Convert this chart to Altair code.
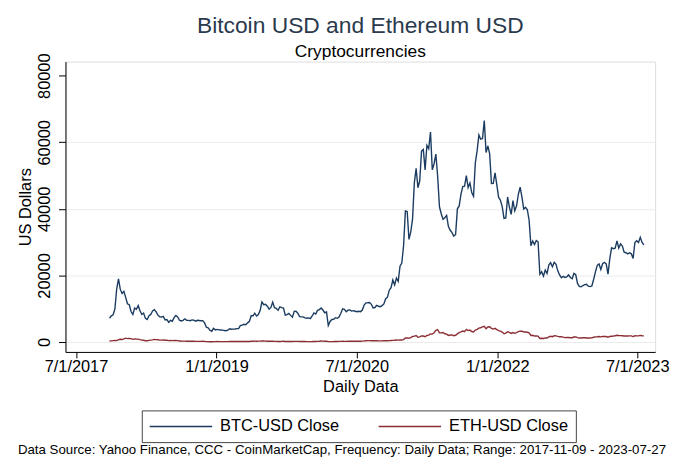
import altair as alt
import pandas as pd

# ---- weekly closes (USD) ----
year_starts = ["2017-11-09", "2018-01-04", "2019-01-03", "2020-01-02",
               "2021-01-07", "2022-01-06", "2023-01-05"]

btc_2017 = [7144, 7870, 8200, 9950, 16000, 19000, 15800, 14600]
btc_2018 = [15200, 13400, 11500, 11200,
            9170, 8270, 10200, 9830,
            10950, 9400, 8260, 8700, 7100,
            6780, 7930, 8280, 9350,
            9700, 9050, 8060, 7580, 7500,
            7690, 6630, 6730, 5900,
            6530, 6250, 7320, 7950,
            7540, 6540, 6310, 6530, 6970,
            6530, 6490, 6400, 6630,
            6580, 6280, 6530, 6470,
            6380, 6410, 5740, 4450, 4280,
            3510, 3240, 4130, 3650]
btc_2019 = [3790, 3630, 3620, 3580, 3440,
            3400, 3600, 3970, 3850,
            3880, 3920, 4030, 4030,
            4960, 5050, 5310, 5200,
            5750, 6190, 7880, 7880, 8660,
            7790, 8230, 9520, 12000,
            11230, 11350, 10760, 9880,
            10400, 11980, 10320, 10130, 9510,
            10580, 10340, 10170, 8060,
            8230, 8590, 8000, 7460, 9200,
            9230, 8640, 7630, 7560,
            7550, 7240, 7150, 7220]
btc_2020 = [6990, 7820, 8720, 8400, 9510,
            9750, 10240, 9610, 8790,
            9080, 4970, 6190, 6760,
            6810, 7300, 7120, 7500, 8660,
            9950, 9790, 9080, 9580,
            9660, 9280, 9410, 9250,
            9090, 9250, 9130, 9600, 11110,
            11750, 11780, 11860, 11330,
            10240, 10360, 11000, 10750,
            10620, 10930, 11430, 12990, 13460,
            15570, 16320, 18620, 17150,
            19210, 18250, 22800, 23740, 29000]
btc_2021 = [39370, 39190, 30830, 33110,
            37010, 47900, 52150, 46340,
            48440, 57330, 57860, 51700,
            59090, 58090, 63100, 51760, 53560,
            56470, 49710, 40630, 38530,
            36860, 37340, 38050, 34660,
            33570, 32880, 31800, 32290, 40010,
            40870, 44430, 46720, 46810,
            49970, 46400, 47780, 44890, 43790,
            53800, 57400, 62210, 60930,
            61130, 66500, 56940, 58920,
            56500, 47590, 47630, 50800, 47180]
btc_2022 = [43450, 42590, 40680, 37160,
            37300, 43570, 40550, 38330,
            42450, 39400, 40920, 44330, 46500,
            43510, 39950, 40480, 39740,
            36580, 28940, 30330, 29270,
            30470, 30110, 20380, 21110, 19780,
            21590, 20590, 23150, 23850,
            22630, 23950, 23340, 21370,
            20130, 19320, 19700, 19410, 19590,
            20160, 19380, 19040, 20600,
            20210, 17590, 16700, 16600,
            16970, 17220, 17360, 16780, 16640]
btc_2023 = [16830, 18850, 21080, 23010,
            23430, 21800, 23520, 23940,
            23470, 20360, 25050, 28330, 28030,
            28170, 30400, 28240, 29480,
            28850, 26990, 26820, 26470,
            26820, 26500, 25120, 29890, 30450,
            29910, 31470, 29910, 29180]

eth_2017 = [320, 330, 410, 440, 430, 700, 820, 740]
eth_2018 = [940, 1150, 1030, 1060,
            1030, 810, 930, 860,
            870, 700, 610, 540, 390,
            380, 490, 570, 660,
            780, 720, 670, 580, 580,
            600, 520, 530, 420,
            470, 430, 470, 470,
            410, 320, 290, 280, 280,
            230, 210, 240, 220,
            220, 190, 200, 200,
            200, 210, 180, 125, 115,
            90, 85, 115, 120]
eth_2019 = [150, 125, 120, 115, 105,
            105, 120, 145, 135,
            135, 135, 138, 140,
            165, 165, 172, 155,
            160, 170, 250, 245, 268,
            245, 255, 270, 295,
            285, 270, 225, 215,
            218, 220, 185, 190, 170,
            175, 180, 220, 165,
            175, 190, 175, 160, 182,
            185, 185, 150, 150,
            148, 142, 128, 126]
eth_2020 = [127, 138, 164, 162, 184,
            212, 285, 258, 227,
            228, 112, 133, 130,
            141, 165, 172, 185, 206,
            212, 202, 199, 220,
            238, 230, 230, 229,
            226, 242, 235, 275, 335,
            394, 420, 415, 395,
            385, 368, 389, 350,
            353, 350, 378, 412, 386,
            416, 463, 480, 518,
            597, 573, 641, 612, 737]
eth_2021 = [1226, 1229, 1121, 1332,
            1662, 1783, 1936, 1459,
            1541, 1826, 1810, 1593,
            1970, 2070, 2433, 2363, 2776,
            3490, 3720, 2780, 2740,
            2850, 2470, 2370, 1990,
            2110, 2120, 1910, 2030, 2450,
            2830, 3050, 3290, 3110,
            3790, 3430, 3570, 3150, 3000,
            3590, 3790, 4170, 4290,
            4530, 4730, 4000, 4520,
            4590, 4110, 3880, 4110, 3710]
eth_2022 = [3410, 3250, 3000, 2470,
            2680, 3080, 2880, 2600,
            2840, 2600, 2810, 3110, 3280,
            3240, 3020, 2990, 2930,
            2750, 1960, 2020, 1790,
            1830, 1790, 1070, 1140, 1070,
            1240, 1190, 1530, 1720,
            1610, 1880, 1850, 1700,
            1590, 1630, 1470, 1330, 1340,
            1350, 1290, 1280, 1510,
            1530, 1300, 1200, 1200,
            1280, 1280, 1190, 1220, 1200]
eth_2023 = [1250, 1420, 1550, 1600,
            1670, 1550, 1690, 1640,
            1650, 1430, 1670, 1740, 1790,
            1870, 2010, 1940, 1910,
            1880, 1800, 1800, 1800,
            1860, 1830, 1640, 1870, 1850,
            1850, 2000, 1890, 1860]

series_names = ["BTC-USD Close", "ETH-USD Close"]
series_colors = ["#1b3c60", "#8c2f35"]
x_ticks = ["2017-07-01", "2019-01-01", "2020-07-01", "2022-01-01", "2023-07-01"]
y_ticks = [0, 20000, 40000, 60000, 80000]
footnote_text = ["Data Source: Yahoo Finance, CCC - CoinMarketCap, Frequency: Daily Data; Range: 2017-11-09 - 2023-07-27"]

btc_years = [btc_2017, btc_2018, btc_2019, btc_2020, btc_2021, btc_2022, btc_2023]
eth_years = [eth_2017, eth_2018, eth_2019, eth_2020, eth_2021, eth_2022, eth_2023]

rows = []
for name, years in zip(series_names, [btc_years, eth_years]):
    for start, vals in zip(year_starts, years):
        dates = pd.date_range(start, periods=len(vals), freq="7D")
        for d, v in zip(dates, vals):
            rows.append({"date": d.strftime("%Y-%m-%d"), "value": v, "series": name})
df = pd.DataFrame(rows)


def dt(s):
    y, m, d = (int(p) for p in s.split("-"))
    return alt.DateTime(year=y, month=m, date=d)


FONT = "Liberation Sans"
FS = 16.5

lines = alt.Chart(df).mark_line(strokeWidth=1.4, clip=True).encode(
    x=alt.X("date:T",
            scale=alt.Scale(domain=[dt("2017-05-21"), dt("2023-09-09")], nice=False),
            axis=alt.Axis(values=[dt(s) for s in x_ticks], format="%-m/%-d/%Y",
                          title="Daily Data", grid=False, tickSize=6,
                          labelFontSize=FS, titleFontSize=FS, labelPadding=1,
                          titlePadding=3, labelColor="#000", titleColor="#000",
                          titleFontWeight="normal",
                          domainColor="#000", tickColor="#000",
                          labelFont=FONT, titleFont=FONT,
                          labelFlush=False, labelOverlap=False)),
    y=alt.Y("value:Q",
            scale=alt.Scale(domain=[-2980, 84250], nice=False, zero=False),
            axis=alt.Axis(values=y_ticks, format="d", title="US Dollars", tickSize=7,
                          labelAngle=270, labelAlign="center", labelBaseline="bottom",
                          labelPadding=6, labelFontSize=FS, titleFontSize=FS,
                          titlePadding=3, labelColor="#000", titleColor="#000",
                          titleFontWeight="normal",
                          domainColor="#000", tickColor="#000",
                          gridColor="#ebebeb",
                          gridOpacity={"condition": {"test": "datum.value == 80000", "value": 0}, "value": 1},
                          labelFont=FONT, titleFont=FONT,
                          labelFlush=False, labelOverlap=False)),
    color=alt.Color("series:N",
                    scale=alt.Scale(domain=series_names, range=series_colors),
                    legend=alt.Legend(title=None, orient="none", legendX=77, legendY=352,
                                      direction="horizontal",
                                      symbolType="M-1,0H6.875",
                                      symbolSize=256, symbolStrokeWidth=1.3,
                                      labelFontSize=FS, labelFont=FONT,
                                      labelColor="#000", columnPadding=36,
                                      padding=7, strokeColor="#444",
                                      labelOffset=54)),
)

footnote = alt.Chart(pd.DataFrame({"t": footnote_text})).mark_text(
    fontSize=13.4, font=FONT, color="#000", align="center", baseline="alphabetic"
).encode(text="t:N", x=alt.value(279), y=alt.value(396))

chart = alt.layer(lines, footnote).properties(
    width=595, height=293,
    title=alt.TitleParams(text="Bitcoin USD and Ethereum USD", subtitle="Cryptocurrencies",
                          fontSize=23, subtitleFontSize=17.5, font=FONT,
                          subtitleFont=FONT, color="#2b3a4d",
                          subtitleColor="#000", fontWeight="normal", anchor="middle",
                          frame="group", offset=-8, subtitlePadding=6),
    autosize=alt.AutoSizeParams(type="none"),
    padding={"left": 58, "top": 52, "right": 15, "bottom": 108},
).configure_view(stroke=None).configure(background="white")

chart.save("out.html", embed_options={"renderer": "svg", "actions": False})
